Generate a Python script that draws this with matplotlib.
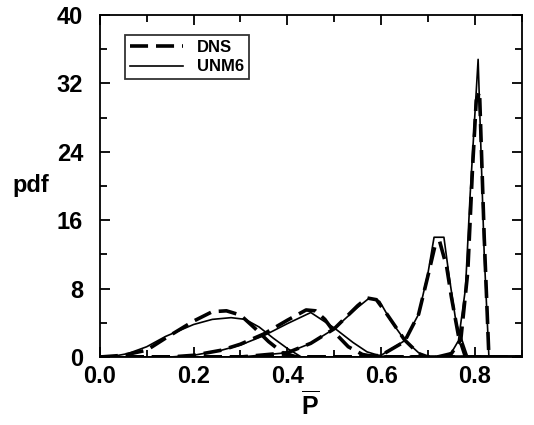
import matplotlib
matplotlib.use('Agg')
import matplotlib.pyplot as plt
from matplotlib.ticker import MultipleLocator

plt.rcParams['font.family'] = ['Liberation Sans', 'DejaVu Sans']
plt.rcParams['mathtext.fontset'] = 'custom'
plt.rcParams['mathtext.rm'] = 'Liberation Sans:bold'

# DNS pdfs (dashed), one list per peak
dns_x1 = [0.0, 0.05, 0.1, 0.14, 0.2, 0.24, 0.27, 0.3, 0.33, 0.36, 0.39, 0.42, 0.9]
dns_y1 = [0.0, 0.2, 0.8, 2.2, 4.2, 5.3, 5.4, 4.9, 3.4, 1.8, 0.5, 0.0, 0.0]
dns_x2 = [0.0, 0.15, 0.2, 0.26, 0.3, 0.35, 0.4, 0.44, 0.46, 0.48, 0.5, 0.53, 0.56, 0.59, 0.9]
dns_y2 = [0.0, 0.0, 0.2, 0.8, 1.5, 2.7, 4.3, 5.5, 5.4, 4.4, 2.9, 1.2, 0.3, 0.0, 0.0]
dns_x3 = [0.0, 0.3, 0.4, 0.45, 0.5, 0.55, 0.57, 0.59, 0.61, 0.63, 0.65, 0.68, 0.7, 0.9]
dns_y3 = [0.0, 0.0, 0.5, 1.6, 3.3, 6.0, 6.9, 6.7, 5.2, 3.6, 2.0, 0.4, 0.0, 0.0]
dns_x4 = [0.0, 0.55, 0.6, 0.65, 0.68, 0.7, 0.715, 0.725, 0.74, 0.75, 0.765, 0.78, 0.9]
dns_y4 = [0.0, 0.0, 0.2, 1.8, 5.0, 9.5, 13.0, 13.5, 10.5, 7.0, 2.5, 0.0, 0.0]
dns_x5 = [0.0, 0.72, 0.75, 0.77, 0.785, 0.795, 0.803, 0.81, 0.82, 0.83, 0.9]
dns_y5 = [0.0, 0.0, 0.4, 2.0, 10.0, 22.0, 30.0, 31.0, 14.0, 0.0, 0.0]

# UNM6 pdfs (solid)
unm_x1 = [0.0, 0.02, 0.06, 0.1, 0.14, 0.2, 0.24, 0.28, 0.31, 0.34, 0.37, 0.4, 0.43, 0.9]
unm_y1 = [0.0, 0.0, 0.4, 1.2, 2.4, 3.8, 4.4, 4.6, 4.4, 3.5, 2.2, 1.0, 0.0, 0.0]
unm_x2 = [0.0, 0.15, 0.2, 0.26, 0.3, 0.35, 0.4, 0.45, 0.5, 0.54, 0.57, 0.6, 0.62, 0.9]
unm_y2 = [0.0, 0.0, 0.2, 0.8, 1.4, 2.5, 3.9, 5.2, 3.4, 1.7, 0.6, 0.1, 0.0, 0.0]
unm_x3 = [0.0, 0.3, 0.4, 0.45, 0.5, 0.55, 0.575, 0.597, 0.62, 0.65, 0.68, 0.695, 0.9]
unm_y3 = [0.0, 0.0, 0.5, 1.6, 3.3, 5.8, 6.9, 6.5, 4.3, 2.0, 0.5, 0.0, 0.0]
unm_x4 = [0.0, 0.55, 0.6, 0.65, 0.68, 0.7, 0.713, 0.734, 0.745, 0.76, 0.785, 0.9]
unm_y4 = [0.0, 0.0, 0.2, 1.9, 5.0, 9.8, 14.0, 14.0, 9.5, 4.0, 0.0, 0.0]
unm_x5 = [0.0, 0.73, 0.75, 0.765, 0.78, 0.79, 0.807, 0.82, 0.83, 0.9]
unm_y5 = [0.0, 0.0, 0.5, 1.9, 8.0, 19.0, 34.8, 12.0, 0.0, 0.0]

dns = [(dns_x1, dns_y1), (dns_x2, dns_y2), (dns_x3, dns_y3), (dns_x4, dns_y4), (dns_x5, dns_y5)]
unm = [(unm_x1, unm_y1), (unm_x2, unm_y2), (unm_x3, unm_y3), (unm_x4, unm_y4), (unm_x5, unm_y5)]

fig = plt.figure(figsize=(5.34, 4.25), dpi=100)
ax = fig.add_axes([0.187, 0.16, 0.79, 0.805])

for i, (x, y) in enumerate(dns):
    ax.plot(x, y, color='black', lw=2.6, dashes=(5, 2.2),
            label='DNS' if i == 0 else None)
for i, (x, y) in enumerate(unm):
    ax.plot(x, y, color='black', lw=1.2,
            label='UNM6' if i == 0 else None)

ax.set_xlim(0, 0.9)
ax.set_ylim(0, 40)
ax.xaxis.set_major_locator(MultipleLocator(0.2))
ax.xaxis.set_minor_locator(MultipleLocator(0.1))
ax.yaxis.set_major_locator(MultipleLocator(8))
ax.yaxis.set_minor_locator(MultipleLocator(4))
ax.tick_params(which='both', direction='in', top=True, right=True, width=1.3)
ax.tick_params(which='major', length=7, labelsize=17)
ax.tick_params(which='minor', length=5)
ax.tick_params(axis='y', which='major', pad=12)
ax.tick_params(axis='x', which='major', pad=6)
ax.set_xticks([0.0, 0.2, 0.4, 0.6, 0.8])
ax.set_xticklabels(['0.0', '0.2', '0.4', '0.6', '0.8'])
for lbl in ax.get_xticklabels() + ax.get_yticklabels():
    lbl.set_fontweight('bold')
for s in ax.spines.values():
    s.set_linewidth(1.3)

ax.set_xlabel(r'$\overline{\mathrm{P}}$', fontsize=18, labelpad=2)
ax.set_ylabel('pdf', fontsize=17, fontweight='bold', rotation=0, va='center', ha='center')
ax.yaxis.set_label_coords(-0.163, 0.50)

leg = ax.legend(loc='upper left', bbox_to_anchor=(0.04, 0.965),
                prop={'size': 12, 'weight': 'bold'},
                frameon=True, fancybox=False, edgecolor='black',
                handlelength=3.2, borderpad=0.3, labelspacing=0.25)
leg.get_frame().set_linewidth(1.3)

fig.savefig('out.png', dpi=100)
